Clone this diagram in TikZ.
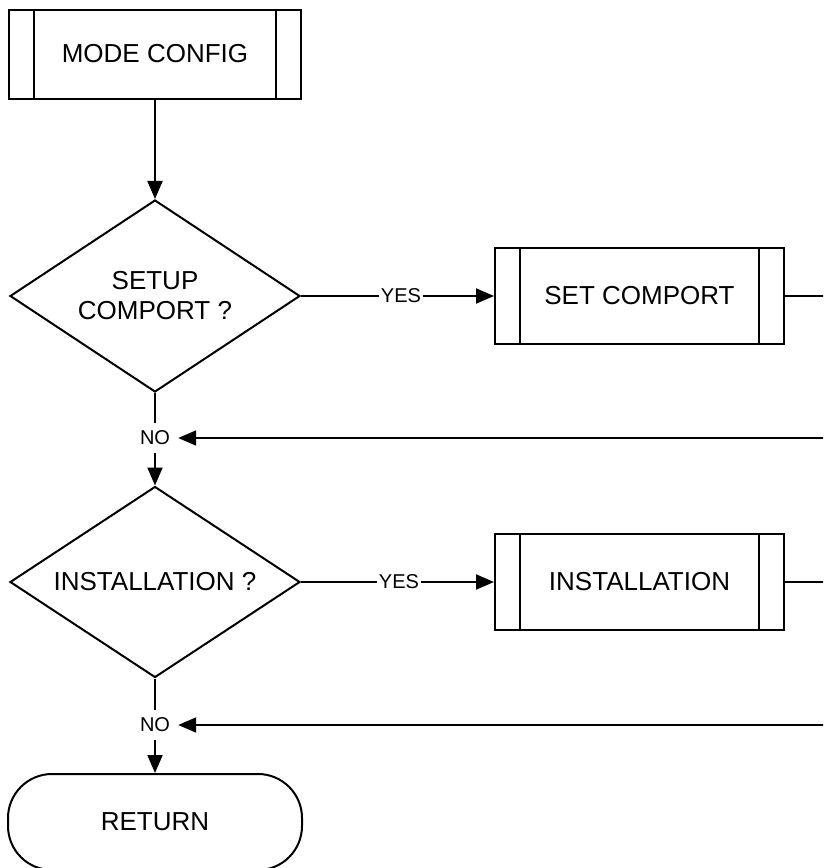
\documentclass[tikz,border=0pt]{standalone}
\usepackage{fontspec}
\setmainfont{Liberation Sans}
\usetikzlibrary{shapes.geometric, arrows.meta}
\begin{document}
\begin{tikzpicture}[x=1pt, y=-1pt,
  every node/.style={font=\fontsize{26}{30}\selectfont},
  flow/.style={line width=2pt},
  arr/.style={flow, -{Triangle[length=18pt,width=15pt]}},
  subproc/.style={draw, line width=2pt, rectangle, inner sep=0pt,
    minimum width=289pt, minimum height=96pt,
    path picture={\draw[line width=2pt]
      ([xshift=25pt]path picture bounding box.north west) --
      ([xshift=25pt]path picture bounding box.south west)
      ([xshift=-25pt]path picture bounding box.north east) --
      ([xshift=-25pt]path picture bounding box.south east);}},
  decision/.style={draw, line width=2pt, diamond, aspect=1.51, inner sep=0pt,
    minimum width=290pt, minimum height=192pt, align=center},
  terminal/.style={draw, line width=2pt, rectangle, rounded corners=44pt,
    minimum width=294pt, minimum height=96pt, inner sep=0pt},
  lbl/.style={font=\fontsize{20}{24}\selectfont, inner sep=2pt},
  nolbl/.style={font=\fontsize{20}{24}\selectfont, inner sep=8pt}
]
\useasboundingbox (0,0) rectangle (823,868);
\fill[white] (0,0) rectangle (823,868);
\clip (0,0) rectangle (823,868);

% main column
\node[subproc, minimum width=292pt, minimum height=89pt] (mode) at (155,54) {MODE CONFIG};
\node[decision] (dec1) at (155,296) {SETUP\\COMPORT ?};
\node[nolbl] (no1) at (155,438) {NO};
\node[decision, minimum height=191pt] (dec2) at (155,582) {INSTALLATION ?};
\node[nolbl] (no2) at (155,725) {NO};
\node[terminal] (ret) at (155,822) {RETURN};

% yes branches
\node[lbl] (yes1) at (401,296) {YES};
\node[subproc] (setc) at (639.5,296) {SET COMPORT};
\node[lbl] (yes2) at (399,582) {YES};
\node[subproc] (inst) at (639.5,582) {INSTALLATION};

% loop-back points beyond the right edge
\coordinate (out1) at (850,296);
\coordinate (back1) at (850,438);
\coordinate (out2) at (850,582);
\coordinate (back2) at (850,725);

% connectors
\draw[arr] (mode) -- (dec1);
\draw[flow] (dec1) -- (yes1);
\draw[arr] (yes1) -- (setc);
\draw[arr] (setc) -- (out1) -- (back1) -- (no1);
\draw[flow] (dec1) -- (no1);
\draw[arr] (no1) -- (dec2);
\draw[flow] (dec2) -- (yes2);
\draw[arr] (yes2) -- (inst);
\draw[arr] (inst) -- (out2) -- (back2) -- (no2);
\draw[flow] (dec2) -- (no2);
\draw[arr] (no2) -- (ret);
\end{tikzpicture}
\end{document}
